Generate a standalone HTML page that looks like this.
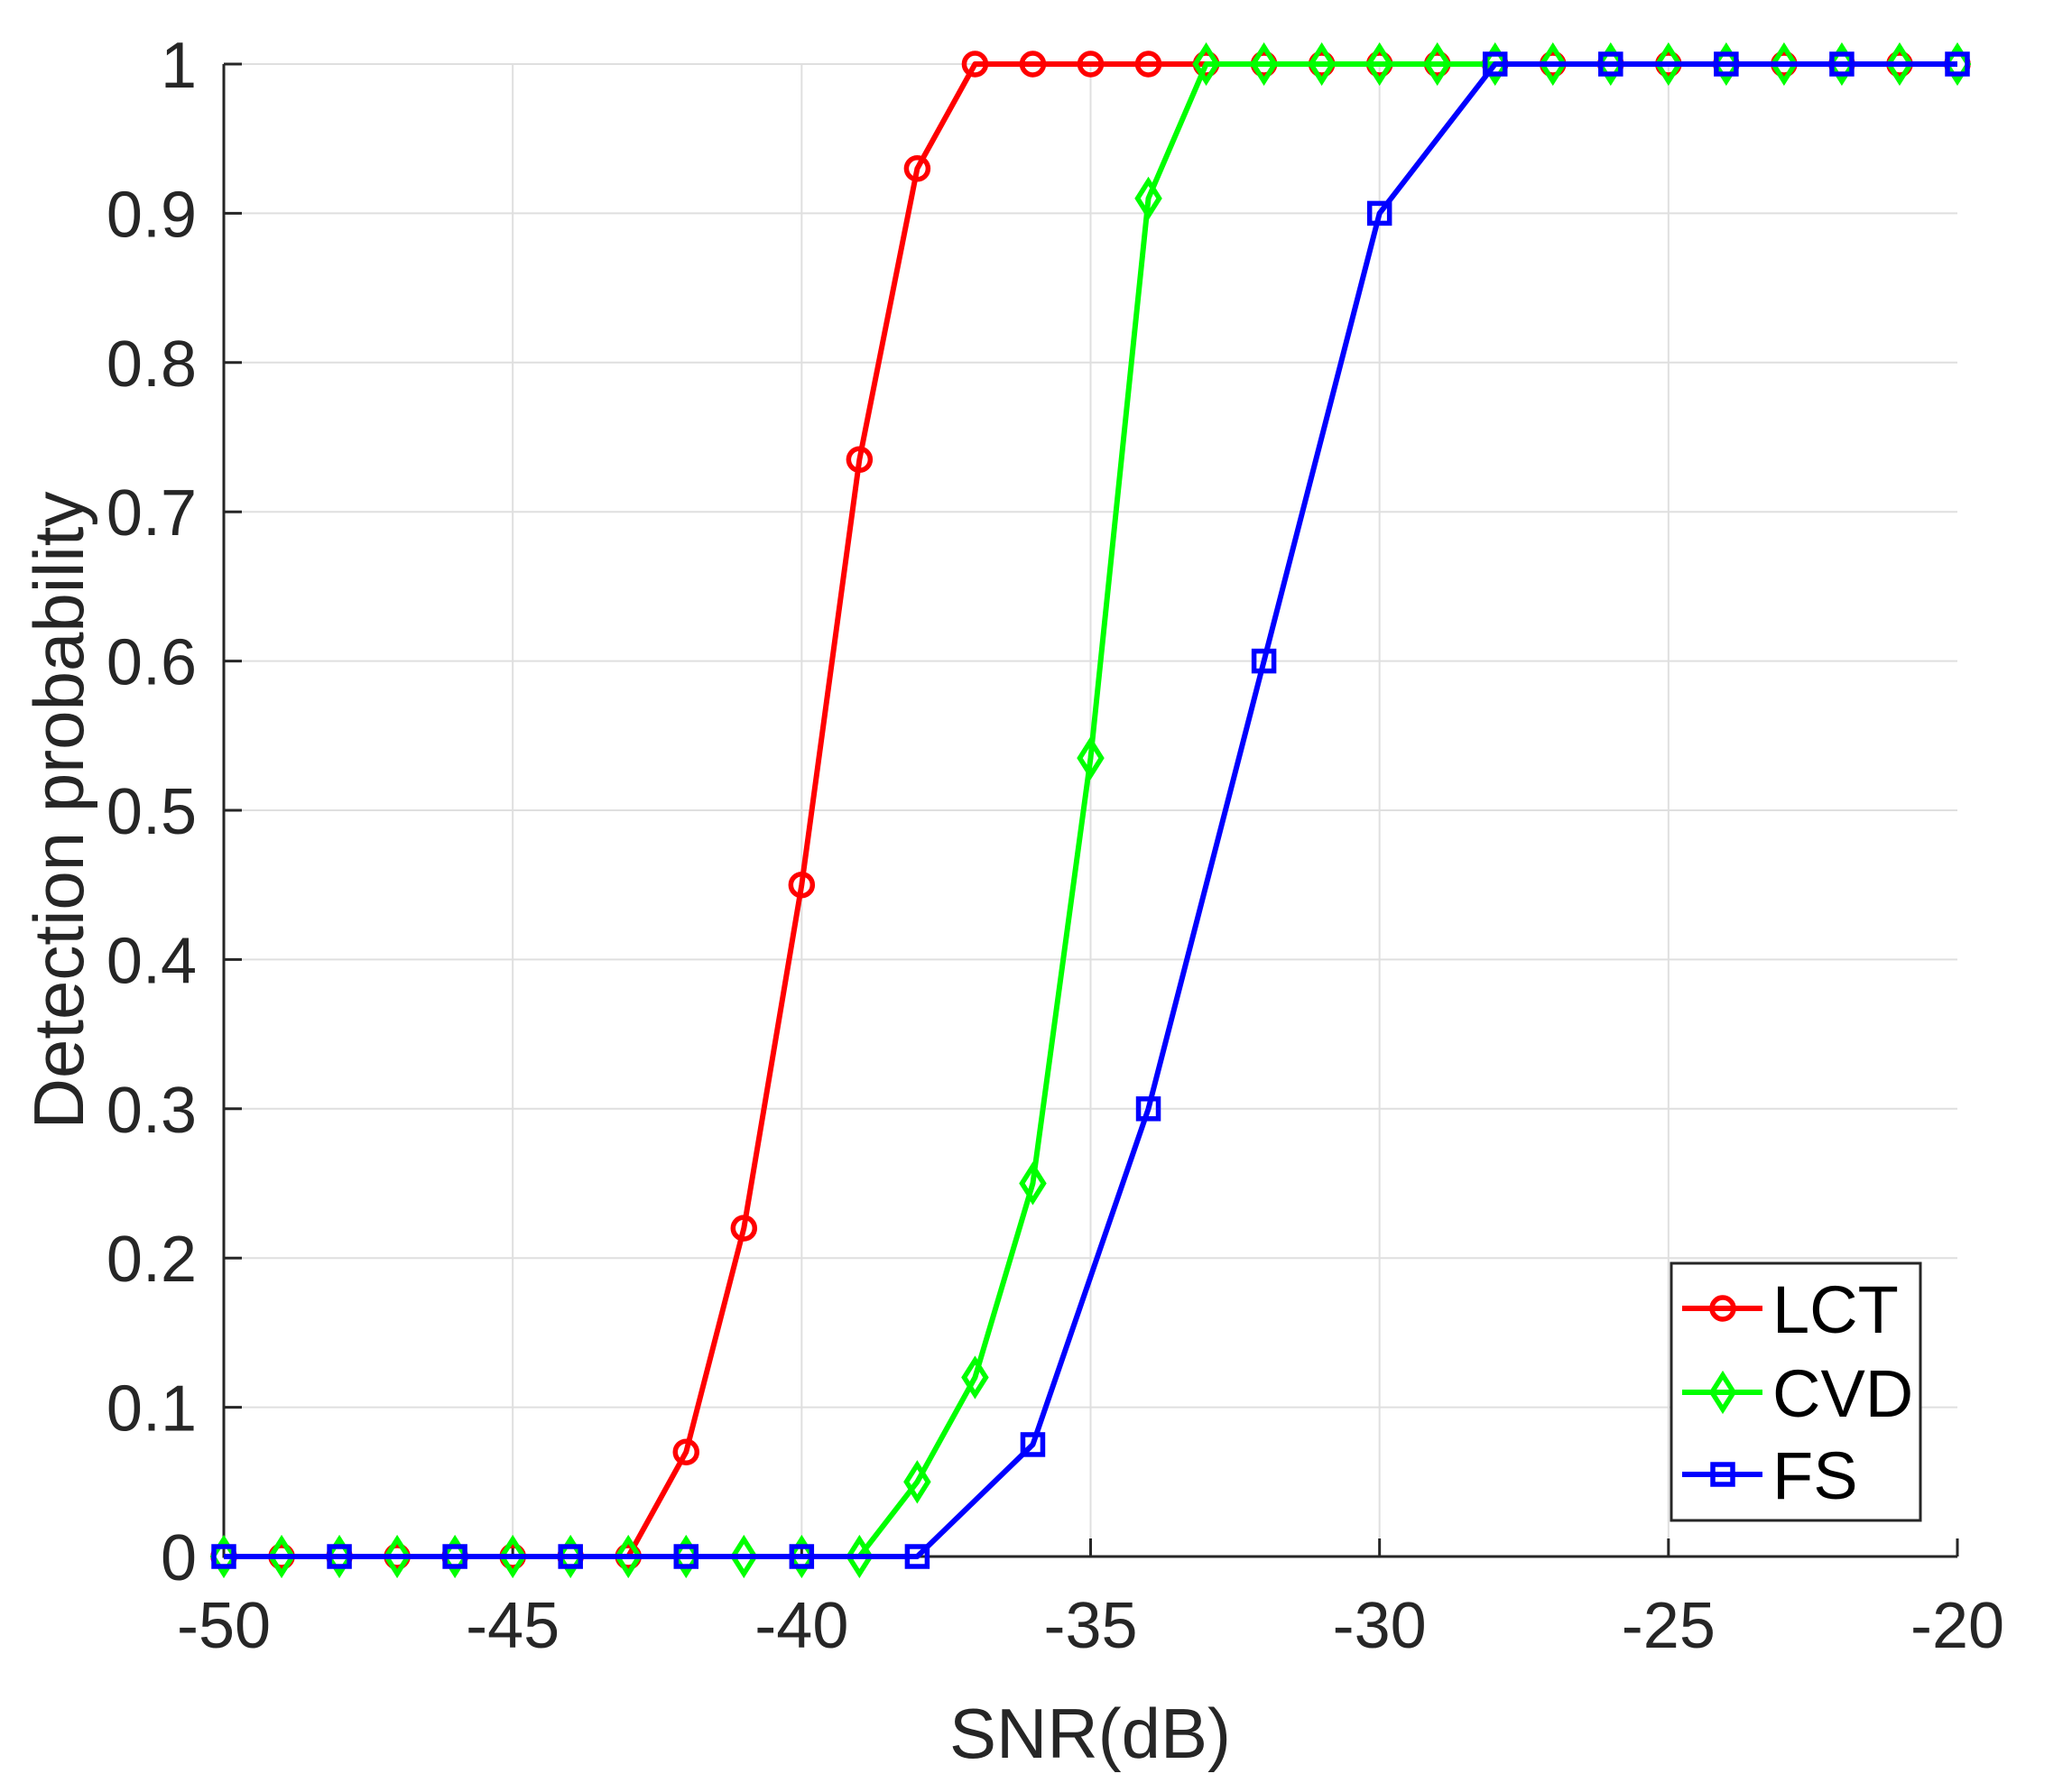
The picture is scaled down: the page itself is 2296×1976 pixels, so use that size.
<!DOCTYPE html>
<html><head><meta charset="utf-8"><style>body{margin:0;background:#fff}svg{display:block}</style></head><body>
<svg width="2296" height="1976" xmlns="http://www.w3.org/2000/svg" font-family="Liberation Sans, sans-serif">
<rect width="2296" height="1976" fill="#fff"/>
<g id="grid" stroke="#dfdfdf" stroke-width="2"></g>
<g id="axes"></g>
<g id="series"></g>
<g id="legend"></g>
<text x="1208" y="1948" font-size="78" fill="#262626" text-anchor="middle">SNR(dB)</text>
<text transform="translate(92,898) rotate(-90)" font-size="78" fill="#262626" text-anchor="middle">Detection probability</text>
<script>
const L=248,R=2169,T=71,B=1725;
const X=v=>L+(v+50)*(R-L)/30, Y=p=>B-p*(B-T);
const ns="http://www.w3.org/2000/svg";
function el(p,t,a,txt){const e=document.createElementNS(ns,t);for(const k in a)e.setAttribute(k,a[k]);if(txt!==undefined)e.textContent=txt;p.appendChild(e);return e;}
const g=document.getElementById('grid'),ax=document.getElementById('axes'),s=document.getElementById('series'),lg=document.getElementById('legend');
for(let v=-45;v<-20;v+=5)el(g,'line',{x1:X(v),x2:X(v),y1:T,y2:B});
for(let i=1;i<=10;i++)el(g,'line',{x1:L,x2:R,y1:Y(i/10),y2:Y(i/10)});
el(ax,'path',{d:`M${L},${T}V${B}H${R}`,stroke:'#262626','stroke-width':3,fill:'none'});
for(let v=-50;v<=-20;v+=5){el(ax,'line',{x1:X(v),x2:X(v),y1:B,y2:B-20,stroke:'#262626','stroke-width':3});
el(ax,'text',{x:X(v),y:1826,'font-size':72,fill:'#262626','text-anchor':'middle'},String(v));}
for(let i=0;i<=10;i++){const p=i/10;el(ax,'line',{x1:L,x2:L+20,y1:Y(p),y2:Y(p),stroke:'#262626','stroke-width':3});
el(ax,'text',{x:218,y:Y(p)+26,'font-size':72,fill:'#262626','text-anchor':'end'},i==0?'0':i==10?'1':p.toFixed(1));}
const xs=[];for(let v=-50;v<=-20;v++)xs.push(v);
const lct=xs.map(v=>({'-42':.07,'-41':.22,'-40':.45,'-39':.735,'-38':.93}[v]??(v<-42?0:1)));
const cvd=xs.map(v=>({'-38':.05,'-37':.12,'-36':.25,'-35':.535,'-34':.91}[v]??(v<-38?0:1)));
const fsx=[],fs=[];for(let v=-50;v<=-20;v+=2){fsx.push(v);fs.push({'-36':.075,'-34':.3,'-32':.6,'-30':.9}[v]??(v<-36?0:1));}
function line(xx,yy,c){el(s,'polyline',{points:xx.map((v,i)=>X(v)+','+Y(yy[i])).join(' '),fill:'none',stroke:c,'stroke-width':6,'stroke-linejoin':'round'});}
function mk(p,type,x,y,c){if(type=='o')el(p,'circle',{cx:x,cy:y,r:12,fill:'none',stroke:c,'stroke-width':5.5});
else if(type=='d')el(p,'path',{d:`M${x},${y-19}L${x+12},${y}L${x},${y+19}L${x-12},${y}Z`,fill:'none',stroke:c,'stroke-width':5.5});
else el(p,'rect',{x:x-11,y:y-11,width:22,height:22,fill:'none',stroke:c,'stroke-width':5.5});}
line(xs,lct,'#ff0000');xs.forEach((v,i)=>mk(s,'o',X(v),Y(lct[i]),'#ff0000'));
line(xs,cvd,'#00ff00');xs.forEach((v,i)=>mk(s,'d',X(v),Y(cvd[i]),'#00ff00'));
line(fsx,fs,'#0000ff');fsx.forEach((v,i)=>mk(s,'s',X(v),Y(fs[i]),'#0000ff'));
el(lg,'rect',{x:1852,y:1400,width:276,height:285,fill:'#fff',stroke:'#262626','stroke-width':3});
[['LCT','#ff0000','o',1450],['CVD','#00ff00','d',1543],['FS','#0000ff','s',1634]].forEach(([t,c,m,y])=>{
el(lg,'line',{x1:1864,x2:1953,y1:y,y2:y,stroke:c,'stroke-width':6});mk(lg,m,1909,y,c);
el(lg,'text',{x:1964,y:y+27,'font-size':74,fill:'#000'},t);});
</script>
</svg>
</body></html>
